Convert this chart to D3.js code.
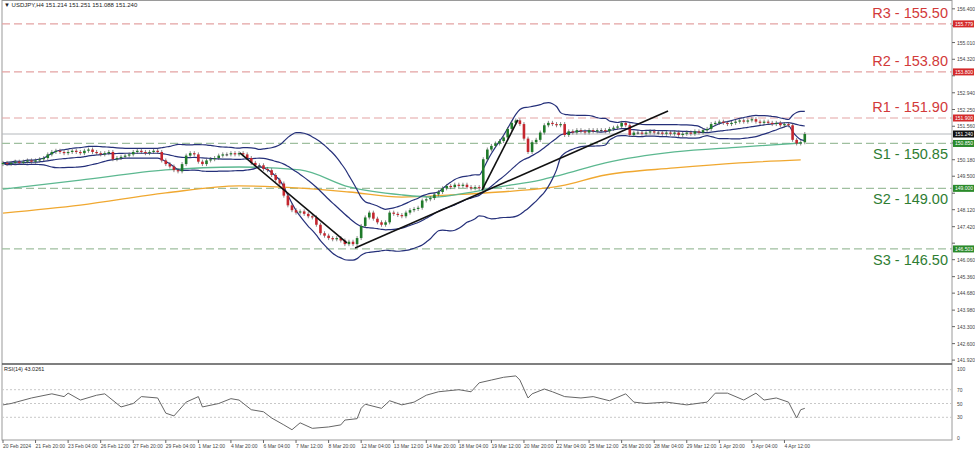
<!DOCTYPE html>
<html>
<head>
<meta charset="utf-8">
<script src="https://cdn.jsdelivr.net/npm/d3@7"></script>
<style>
body { margin: 0; background: #fff; }
svg { display: block; font-family: "Liberation Sans", Arial, sans-serif; }
</style>
</head>
<body>
<script>
const WIDTH = 975;
const HEIGHT = 452;
const LEFT = 2;
const RIGHT = 952;
const MAIN_TOP = 0;
const MAIN_BOTTOM = 364;
const RSI_TOP = 364;
const RSI_BOTTOM = 440;

// H4 closes
var closes = [
	150.05,150.0,150.05,150.1,150.05,150.1,150.15,150.1,150.15,150.2,150.25,
	150.4,150.5,150.55,150.5,150.45,150.5,150.55,150.5,
	150.45,150.55,150.6,150.5,150.45,150.4,150.45,150.5,
	150.2,150.25,150.3,150.35,
	150.4,150.5,150.55,150.5,150.45,150.5,150.55,150.5,
	150.15,150.0,149.9,149.75,149.7,
	150.0,150.35,150.45,150.4,150.1,
	150.0,150.15,150.2,150.25,
	150.35,150.4,150.4,150.45,150.4,150.45,150.4,
	150.25,150.05,149.95,149.95,149.8,149.75,149.55,
	149.35,149.2,148.7,148.3,148.1,
	148.0,148.05,147.95,147.85,147.8,
	147.5,147.15,147.05,146.95,146.9,146.95,146.85,146.7,
	146.8,146.7,146.95,
	147.45,147.8,148.0,147.75,147.6,
	147.5,147.6,148.0,147.95,
	147.9,147.85,148.0,148.1,148.15,
	148.2,148.5,148.55,148.6,148.75,
	148.85,149.0,149.1,149.05,149.15,
	149.1,149.15,149.05,149.0,149.05,149.0,
	150.2,150.6,150.75,150.85,
	150.95,151.1,151.45,151.7,151.8,
	151.65,151.05,150.5,150.9,
	151.0,151.3,151.6,151.7,
	151.65,151.6,151.65,151.2,
	151.35,151.3,151.4,151.35,151.3,151.4,151.35,151.4,
	151.4,151.35,151.45,151.5,151.55,151.7,
	151.6,151.2,151.3,
	151.3,151.25,151.3,151.35,151.3,151.3,151.25,151.3,151.25,151.3,151.2,151.25,151.3,151.25,151.35,
	151.3,151.4,151.45,
	151.65,151.7,151.75,151.7,151.65,151.7,151.75,151.8,151.75,151.8,151.85,
	151.75,151.7,151.75,151.7,151.65,151.7,151.6,151.65,151.6,
	151.0,150.85,150.9,151.24
];
var firstOpen = 150.0;

// moving averages, knots
var greenMaBars = [0,19,40,58,73,85,98,106,114,122,132,137,148,165,181,196];
var greenMaValues = [148.97,149.34,149.76,149.88,149.76,149.06,148.73,148.64,148.81,149.06,149.34,149.55,150.05,150.50,150.70,150.87];
var orangeMaBars = [0,19,40,58,73,85,98,110,122,137,148,165,181,196];
var orangeMaValues = [147.98,148.31,148.81,149.10,149.01,148.85,148.64,148.73,148.85,149.10,149.55,149.84,150.05,150.17];

// hand drawn trend lines: [bar, price] pairs
var trendLines = [
	[[58.2,150.46],[84.5,146.75]],
	[[86.5,146.54],[163.4,152.19]],
	[[117.7,148.93],[126.5,151.82]]
];

// support / resistance
var levelNames = ['R3 - 155.50','R2 - 153.80','R1 - 151.90','S1 - 150.85','S2 - 149.00','S3 - 146.50'];
var levelPrices = [155.779,153.800,151.900,150.850,149.000,146.503];
var levelTags = ['155.779','153.800','151.900','150.850','149.000','146.503'];
var levelKinds = ['r','r','r','s','s','s'];
var lastPrice = 151.240;

var priceTicks = [156.400,155.700,155.010,154.320,153.640,152.940,152.250,151.560,150.870,150.180,149.500,148.800,148.120,147.420,146.740,146.060,145.360,144.680,143.980,143.300,142.600,141.920];

var rsiBars = [0,2,7,12,15,16,19,23,25,29,32,34,38,40,42,45,48,49,53,56,58,61,64,66,69,71,73,76,80,83,84,87,88,89,93,95,98,101,104,107,112,115,117,120,123,126,127,129,130,133,135,138,142,145,149,153,155,158,163,168,173,175,178,182,185,187,190,193,195,196,197];
var rsiValues = [48,50,58,64,60,65,55,62,64,45,50,60,58,36,32,52,60,45,50,57,55,41,38,29,19,12,22,14,16,19,26,28,43,49,43,54,48,52,62,67,70,67,80,84,88,90,84,58,64,71,67,60,58,60,54,64,52,50,52,48,52,65,65,55,65,55,58,52,29,41,43];
var rsiLevels = [70,50,30];
var rsiTicks = [100,70,50,30,0];

var timeLabels = ['20 Feb 2024','21 Feb 20:00','23 Feb 04:00','26 Feb 12:00','27 Feb 20:00','29 Feb 04:00','1 Mar 12:00','4 Mar 20:00','6 Mar 04:00','7 Mar 12:00','8 Mar 20:00','12 Mar 04:00','13 Mar 12:00','14 Mar 20:00','18 Mar 04:00','19 Mar 12:00','20 Mar 20:00','22 Mar 04:00','25 Mar 12:00','26 Mar 20:00','28 Mar 04:00','29 Mar 12:00','1 Apr 20:00','3 Apr 04:00','4 Apr 12:00'];
var barsPerLabel = 8;

var svg = d3.select('body').append('svg')
	.attr('width', WIDTH)
	.attr('height', HEIGHT);

var x = d3.scaleLinear().domain([0, 1]).range([3, 7.07]);
var y = d3.scaleLinear().domain([151.9, 146.5]).range([118, 249]);
var yr = d3.scaleLinear().domain([0, 100]).range([438, 369]);

// frame
svg.append('rect').attr('x', LEFT).attr('y', MAIN_TOP + 0.5).attr('width', RIGHT - LEFT).attr('height', RSI_BOTTOM - 0.5)
	.attr('fill', 'none').attr('stroke', '#9a9a9a');
svg.append('line').attr('x1', LEFT).attr('x2', RIGHT).attr('y1', MAIN_BOTTOM).attr('y2', MAIN_BOTTOM)
	.attr('stroke', '#555').attr('stroke-width', 1.5);

var main = svg.append('g');

// level lines
levelPrices.forEach(function(p, i){
	main.append('line')
		.attr('x1', LEFT).attr('x2', RIGHT)
		.attr('y1', y(p)).attr('y2', y(p))
		.attr('stroke', levelKinds[i] == 'r' ? '#e3a3a3' : '#9fbf9f')
		.attr('stroke-width', 1.2)
		.attr('stroke-dasharray', '8,4');
});
main.append('line').attr('x1', LEFT).attr('x2', RIGHT)
	.attr('y1', y(lastPrice)).attr('y2', y(lastPrice))
	.attr('stroke', '#b4b8bc').attr('stroke-width', 1);

// moving averages
var maLine = d3.line().x(function(d){return x(d[0])}).y(function(d){return y(d[1])}).curve(d3.curveMonotoneX);
main.append('path').datum(d3.zip(orangeMaBars, orangeMaValues))
	.attr('d', maLine).attr('fill', 'none').attr('stroke', '#f0a830').attr('stroke-width', 1.3);
main.append('path').datum(d3.zip(greenMaBars, greenMaValues))
	.attr('d', maLine).attr('fill', 'none').attr('stroke', '#5cb890').attr('stroke-width', 1.3);

// bollinger (20, 2) from closes
var mid = [], up = [], lo = [];
closes.forEach(function(c, i){
	var w = closes.slice(Math.max(0, i - 19), i + 1);
	var m = d3.mean(w);
	var sd = Math.sqrt(d3.mean(w, function(v){return (v - m) * (v - m)}));
	mid.push([i, m]); up.push([i, m + 2*sd]); lo.push([i, m - 2*sd]);
});
[mid, up, lo].forEach(function(band){
	main.append('path').datum(band).attr('d', maLine)
		.attr('fill', 'none').attr('stroke', '#25307a').attr('stroke-width', 1.2);
});

// candles
closes.forEach(function(c, i){
	var o = i == 0 ? firstOpen : closes[i-1];
	var top = y(Math.max(o, c)), bot = y(Math.min(o, c));
	var col = c > o ? '#1f7a2a' : (c < o ? '#c4262e' : '#333');
	main.append('line').attr('x1', x(i)).attr('x2', x(i))
		.attr('y1', top - 2).attr('y2', bot + 2).attr('stroke', '#555').attr('stroke-width', 0.7);
	main.append('rect').attr('x', x(i) - 1.3).attr('width', 2.6)
		.attr('y', top).attr('height', Math.max(1, bot - top)).attr('fill', col);
});

// trend lines
trendLines.forEach(function(t){
	main.append('line')
		.attr('x1', x(t[0][0])).attr('y1', y(t[0][1]))
		.attr('x2', x(t[1][0])).attr('y2', y(t[1][1]))
		.attr('stroke', '#111').attr('stroke-width', 1.6);
});

// level names
levelNames.forEach(function(n, i){
	var below = levelKinds[i] == 's';
	main.append('text')
		.attr('x', 948).attr('y', y(levelPrices[i]) + (below ? 16 : -6))
		.attr('text-anchor', 'end').attr('font-size', 14.5)
		.attr('fill', below ? '#2e7d32' : '#d23a3a')
		.text(n);
});

// right axis
var axis = svg.append('g').attr('font-size', 5).attr('fill', '#444');
var tagPrices = levelPrices.concat([lastPrice]);
priceTicks.forEach(function(p){
	axis.append('line').attr('x1', RIGHT).attr('x2', RIGHT + 3).attr('y1', y(p)).attr('y2', y(p)).attr('stroke', '#666');
	var clash = tagPrices.some(function(t){return Math.abs(y(t) - y(p)) < 6});
	if (!clash) axis.append('text').attr('x', RIGHT + 5).attr('y', y(p) + 2).text(p.toFixed(3));
});
function tag(p, label, color){
	axis.append('rect').attr('x', RIGHT + 1).attr('y', y(p) - 3.5).attr('width', 21).attr('height', 7).attr('fill', color);
	axis.append('text').attr('x', RIGHT + 3).attr('y', y(p) + 2).attr('fill', '#fff').text(label);
}
levelPrices.forEach(function(p, i){
	tag(p, levelTags[i], levelKinds[i] == 'r' ? '#d42a2a' : '#2a8a2a');
});
tag(lastPrice, lastPrice.toFixed(3), '#111');

// header
svg.append('text').attr('x', 4).attr('y', 7).attr('font-size', 6).attr('fill', '#222')
	.text('\u25BC USDJPY,H4  151.214 151.251 151.088 151.240');

// rsi panel
rsiLevels.forEach(function(v){
	svg.append('line').attr('x1', LEFT).attr('x2', RIGHT).attr('y1', yr(v)).attr('y2', yr(v))
		.attr('stroke', '#c8c8c8').attr('stroke-dasharray', '2,2');
});
svg.append('path').datum(d3.zip(rsiBars, rsiValues))
	.attr('d', d3.line().x(function(d){return x(d[0])}).y(function(d){return yr(d[1])}))
	.attr('fill', 'none').attr('stroke', '#666').attr('stroke-width', 1);
rsiTicks.forEach(function(v){
	axis.append('text').attr('x', RIGHT + 5).attr('y', yr(v) + 2).text(v);
});
svg.append('text').attr('x', 4).attr('y', 371).attr('font-size', 5.5).attr('fill', '#222').text('RSI(14) 43.0261');

// time axis
timeLabels.forEach(function(t, i){
	var xx = x(i * barsPerLabel);
	svg.append('line').attr('x1', xx).attr('x2', xx).attr('y1', RSI_BOTTOM).attr('y2', RSI_BOTTOM + 3).attr('stroke', '#666');
	svg.append('text').attr('x', xx).attr('y', 448).attr('font-size', 5).attr('fill', '#444').text(t);
});
</script>
</body>
</html>
